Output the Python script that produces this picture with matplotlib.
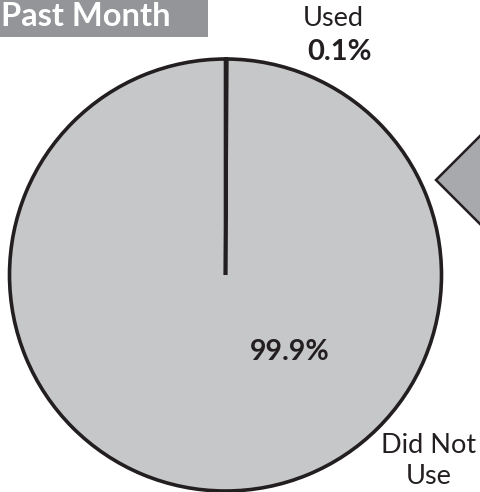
import matplotlib
matplotlib.use("Agg")
import matplotlib.pyplot as plt
from matplotlib.patches import Rectangle, Polygon

labels = ["Used", "Did Not Use"]
values = [0.1, 99.9]
value_labels = ["0.1%", "99.9%"]
title = "Past Month"

W, H = 480, 492
fig = plt.figure(figsize=(W / 100, H / 100), dpi=100)
ax = fig.add_axes([0, 0, 1, 1])
ax.set_xlim(0, W)
ax.set_ylim(0, H)
ax.set_aspect("equal")
ax.axis("off")

def Y(py):
    return H - py

font = "Lato"

# pie
cx, cy, r = 225.5, Y(275), 216
ax.pie(values, startangle=90, counterclock=False, center=(cx, cy), radius=r,
       colors=["#c6c7c9", "#c6c7c9"],
       wedgeprops=dict(edgecolor="#231f20", linewidth=2.6))
ax.set_xlim(0, W)
ax.set_ylim(0, H)

# header box
ax.add_patch(Rectangle((0, Y(37)), 208, 37, facecolor="#939598", edgecolor="none", zorder=5))
ax.text(1, Y(17), title, color="white", fontsize=23.5, fontweight="bold", family=font,
        ha="left", va="center", zorder=6)

# diamond decoration at right edge
ax.add_patch(Polygon([(436, Y(180)), (485, Y(131)), (534, Y(180)), (485, Y(229))],
                     closed=True, facecolor="#a7a9ac", edgecolor="#231f20",
                     linewidth=1.8, zorder=4, clip_on=True))

# labels
ax.text(333, Y(19), labels[0], fontsize=19.5, family=font, color="#231f20",
        ha="center", va="center")
ax.text(340, Y(52), value_labels[0], fontsize=21, fontweight="bold", family=font,
        color="#231f20", ha="center", va="center")
ax.text(290, Y(352), value_labels[1], fontsize=20.5, fontweight="bold", family=font,
        color="#231f20", ha="center", va="center")
ax.text(429, Y(461), "Did Not\nUse", fontsize=19.5, family=font, color="#231f20",
        ha="center", va="center", linespacing=1.3)

fig.savefig("out.png", dpi=100)
